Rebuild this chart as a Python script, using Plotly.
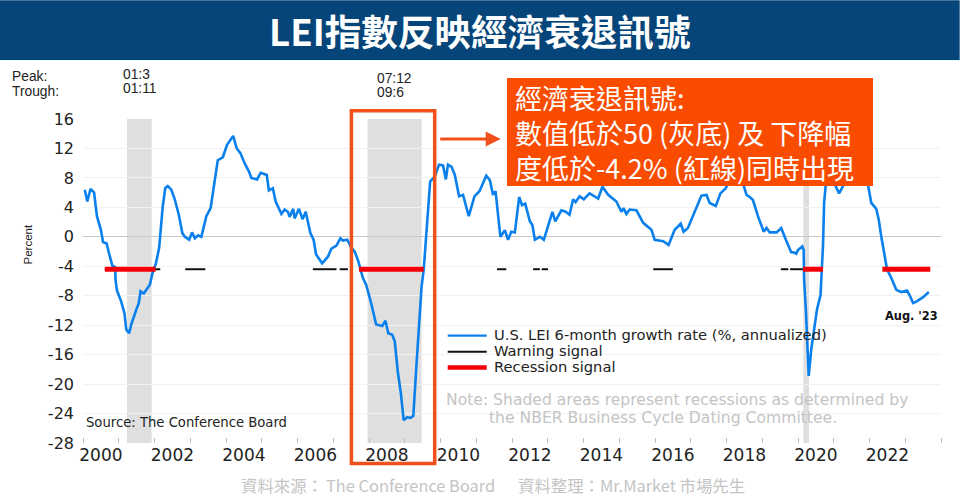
import plotly.graph_objects as go

# ---------- data ----------
lei_x = [2000.05,2000.12,2000.21,2000.31,2000.39,2000.50,2000.56,2000.66,2000.72,2000.82,2000.90,2000.91,2000.95,
2001.07,2001.16,2001.21,2001.29,2001.35,2001.49,2001.56,2001.61,2001.70,2001.87,2001.94,
2002.04,2002.13,2002.23,2002.30,2002.37,2002.47,2002.56,2002.68,2002.78,2002.85,2002.97,
2003.05,2003.13,2003.22,2003.31,2003.45,2003.57,2003.65,2003.77,2003.91,
2004.03,2004.20,2004.30,2004.40,2004.52,2004.64,2004.71,2004.87,2004.97,
2005.03,2005.14,2005.20,2005.31,2005.39,2005.55,2005.64,2005.73,2005.78,2005.88,2005.92,
2006.04,2006.14,2006.23,2006.36,2006.45,2006.52,2006.69,2006.85,2006.95,
2007.09,2007.20,2007.27,2007.39,2007.51,2007.60,2007.70,2007.83,2007.92,
2008.06,2008.20,2008.37,2008.46,2008.54,2008.65,2008.72,2008.81,2008.89,2008.97,
2009.07,2009.16,2009.24,2009.33,2009.40,2009.47,2009.53,2009.59,2009.65,2009.71,2009.84,2009.96,
2010.07,2010.15,2010.21,2010.31,2010.40,2010.52,2010.63,2010.79,2010.95,
2011.09,2011.28,2011.38,2011.47,2011.54,2011.675,2011.80,2011.89,2011.98,
2012.08,2012.20,2012.28,2012.37,2012.50,2012.57,2012.64,2012.78,2012.89,
2013.13,2013.21,2013.38,2013.50,2013.61,2013.71,2013.78,2013.89,
2014.01,2014.17,2014.41,2014.53,2014.69,2014.92,
2015.06,2015.12,2015.20,2015.29,2015.48,2015.67,2015.90,2015.99,
2016.23,2016.38,2016.55,2016.72,2016.80,2016.92,
2017.30,2017.44,2017.53,2017.70,2017.83,2017.98,
2018.04,2018.20,2018.35,2018.46,2018.56,2018.65,2018.74,2018.88,
2019.04,2019.12,2019.21,2019.40,2019.53,2019.66,2019.81,2019.88,2019.95,
2020.00,2020.12,2020.16,2020.17,2020.22,2020.25,2020.30,2020.37,2020.44,2020.53,2020.63,2020.65,2020.67,2020.70,2020.73,2020.77,2020.85,2020.95,
2021.05,2021.15,2021.26,2021.40,2021.65,2021.85,2021.96,
2022.00,2022.05,2022.19,2022.26,2022.33,2022.43,2022.49,2022.61,2022.75,2022.89,
2023.05,2023.12,2023.22,2023.31,2023.50,2023.66]
lei_y = [6.4,4.8,6.5,6.0,2.8,0.95,-0.7,-0.9,-2.1,-3.9,-4.1,-5.8,-7.3,
-8.8,-10.4,-12.6,-13.1,-11.9,-9.9,-9.0,-7.4,-7.7,-6.5,-5.0,
-3.6,-1.5,4.1,6.6,6.9,6.4,5.2,3.0,0.5,0.0,-0.4,
0.6,-0.2,0.2,0.0,2.8,3.9,6.8,10.4,10.8,
12.5,13.7,12.0,11.4,10.0,8.9,8.0,7.8,8.7,
8.6,8.4,6.3,6.6,4.8,3.1,3.7,3.4,2.7,3.8,2.5,
3.8,2.4,3.4,0.5,-0.4,-2.4,-3.6,-2.7,-1.6,
-1.2,-0.2,-0.5,-0.4,-1.5,-2.0,-3.3,-5.6,-6.5,
-9.0,-11.9,-12.1,-11.4,-13.1,-13.3,-14.2,-18.5,-21.2,-24.9,
-24.5,-24.6,-24.3,-17.2,-12.2,-6.8,-4.5,-0.9,2.8,7.5,8.2,9.8,
9.7,7.8,9.8,9.5,8.4,5.5,5.7,2.8,5.5,
6.2,8.3,7.7,5.7,6.2,0.0,0.9,-0.4,0.7,
0.6,5.4,4.3,4.5,2.1,1.6,-0.4,0.0,-0.4,
3.4,2.1,3.6,3.4,3.0,5.1,4.7,5.5,
5.1,5.9,5.2,6.8,5.7,4.8,
3.4,3.9,3.1,3.7,3.6,1.9,0.95,-0.4,
-0.6,-1.1,0.95,1.8,0.7,1.2,
5.6,5.7,4.6,4.2,5.9,6.6,
7.3,8.6,8.9,7.3,5.7,5.4,5.0,2.8,
0.7,1.2,0.6,0.6,1.2,-0.4,-2.1,-2.1,-2.3,
-1.8,-1.3,-1.8,-5.8,-9.9,-14.4,-18.9,-15.3,-12.6,-9.9,-7.9,-5.8,-2.7,-1.1,4.6,6.8,11.0,8.5,
6.9,5.9,6.9,9.0,11.0,10.0,6.9,
5.7,4.6,3.8,2.3,0.0,-2.7,-4.4,-5.6,-7.2,-7.5,
-7.3,-7.9,-9.0,-8.8,-8.2,-7.5]

recession_start = [2001.23, 2007.96, 2020.15]
recession_end = [2001.92, 2009.47, 2020.31]
signal_level = -4.4
warning_start = [2000.61, 2002.86, 2006.43, 2007.18, 2011.58, 2012.59, 2012.83, 2015.95, 2019.52, 2019.78]
warning_end = [2002.16, 2003.42, 2007.09, 2007.41, 2011.84, 2012.78, 2013.01, 2016.50, 2019.73, 2020.14]
red_start = [2000.61, 2007.72, 2020.14, 2022.36]
red_end = [2002.03, 2009.53, 2020.70, 2023.70]

year_ticks = list(range(2000, 2025))
x_labels = [str(y) for y in range(2000, 2024, 2)]
y_labels = list(range(-28, 20, 4))
peak_trough = [("01:3", "01:11"), ("07:12", "09:6"), ("20:2", "20:4")]

# ---------- layout helpers: canvas pixel -> paper fraction ----------
L, R, T, B = 83.3, 941.3, 119.0, 443.5
def fx(p): return (p - L) / (R - L)
def fy(p): return (B - p) / (B - T)

def segs(starts, ends):
    xs, ys = [], []
    for a, b in zip(starts, ends):
        xs += [a, b, None]
        ys += [signal_level, signal_level, None]
    return xs, ys

fig = go.Figure()
wx, wy = segs(warning_start, warning_end)
fig.add_trace(go.Scatter(x=wx, y=wy, mode="lines", line=dict(color="#111111", width=2), hoverinfo="skip"))
fig.add_trace(go.Scatter(x=lei_x, y=lei_y, mode="lines", line=dict(color="#0a80ec", width=2.6), name="U.S. LEI"))
rx, ry = segs(red_start, red_end)
fig.add_trace(go.Scatter(x=rx, y=ry, mode="lines", line=dict(color="#f40008", width=5), hoverinfo="skip"))

shapes = []
for a, b in zip(recession_start, recession_end):
    shapes.append(dict(type="rect", xref="x", yref="y", x0=a, x1=b, y0=-28, y1=16,
                       fillcolor="#dfdfdf", line_width=0, layer="below"))
def rect(x0, y0, x1, y1, **k):
    shapes.append(dict(type="rect", xref="paper", yref="paper", x0=fx(x0), x1=fx(x1), y0=fy(y1), y1=fy(y0), **k))
def hline(x0, x1, y, color, w):
    shapes.append(dict(type="line", xref="paper", yref="paper", x0=fx(x0), x1=fx(x1), y0=fy(y), y1=fy(y),
                       line=dict(color=color, width=w)))
rect(0, 0, 960, 60, fillcolor="#05457a", line_width=0)
rect(0, 60, 960, 61, fillcolor="#e6fbff", line_width=0)
rect(351.7, 110.7, 435, 464, line=dict(color="#f0501a", width=3.5))
hline(448, 487, 336, "#0a80ec", 2.4)
hline(448, 487, 352, "#111111", 2)
hline(448, 487, 368, "#f40008", 4.5)

ann = []
def text(x, y, s, size, color="#222222", family="DejaVu Sans", anchor="left", **k):
    ann.append(dict(xref="paper", yref="paper", x=fx(x), y=fy(y), text=s, showarrow=False,
                    xanchor=anchor, yanchor="middle", align="left", borderpad=0,
                    font=dict(family=family, size=size, color=color), **k))
CJK = "Noto Sans CJK TC"
LIB = "Liberation Sans"
text(480, 30, "<b>LEI指數反映經濟衰退訊號</b>", 36.6, "#ffffff", CJK, "center")
text(11, 76, "Peak:", 13.8, "#222222", LIB)
text(11, 91, "Trough:", 13.8, "#222222", LIB)
text(122, 74, peak_trough[0][0], 13.8, "#222222", LIB)
text(122, 88, peak_trough[0][1], 13.8, "#222222", LIB)
text(376, 78, peak_trough[1][0], 13.8, "#222222", LIB)
text(376, 92, peak_trough[1][1], 13.8, "#222222", LIB)
text(792, 83, peak_trough[2][0], 13.8, "#222222", LIB)
text(28, 245, "Percent", 11.5, "#222222", LIB, "center", textangle=-90)
text(85, 423, "Source: The Conference Board", 13.2)
text(493, 335, "U.S. LEI 6-month growth rate (%, annualized)", 14.7)
text(493, 351, "Warning signal", 14.7)
text(493, 367, "Recession signal", 14.7)
text(445, 400, "Note: Shaded areas represent recessions as determined by", 15.6, "#c4c4c4")
text(488, 418, "the NBER Business Cycle Dating Committee.", 15.6, "#c4c4c4")
text(884, 316, "<b>Aug. '23</b>", 11.4, "#111111")
# orange call-out: filled box first, then its text, both stacked above the labels behind them
ann.append(dict(xref="paper", yref="paper", x=fx(507), y=fy(78), xanchor="left", yanchor="top",
                text="&nbsp;", showarrow=False, width=366, height=108, borderpad=0, borderwidth=0,
                bgcolor="#fa4c00", font=dict(size=12)))
text(514, 133, "經濟衰退訊號:<br>數值低於50 (灰底) 及 下降幅<br>度低於-4.2% (紅線)同時出現", 27, "#ffffff", CJK)
text(240, 486, "資料來源：", 16.4, "#c4c4c4", CJK)
text(325, 486, "The Conference Board", 16.4, "#c4c4c4", CJK)
text(517, 486, "資料整理：Mr.Market 市場先生", 16.4, "#c4c4c4", CJK)
ann.append(dict(xref="paper", yref="paper", x=fx(501), y=fy(139), ax=-62, ay=0, text="", showarrow=True,
                arrowhead=2, arrowsize=1, arrowwidth=3, arrowcolor="#f0501a"))

fig.update_layout(
    width=960, height=502, autosize=False, showlegend=False,
    margin=dict(l=L, r=960 - R, t=T, b=502 - B, pad=0),
    paper_bgcolor="#ffffff", plot_bgcolor="#ffffff",
    shapes=shapes, annotations=ann,
    xaxis=dict(range=[2000, 2024], tickmode="array",
               tickvals=[int(s) + 0.5 for s in x_labels], ticktext=x_labels,
               ticks="", showgrid=False, zeroline=False, showline=False,
               tickfont=dict(family="DejaVu Sans", size=17, color="#222222"),
               minor=dict(tickmode="array", tickvals=year_ticks, ticks="inside", ticklen=5,
                          tickcolor="#bdbdbd", tickwidth=1, showgrid=False)),
    yaxis=dict(range=[-28, 16], tickmode="array", tickvals=y_labels,
               ticktext=[str(v) for v in y_labels],
               ticks="", showgrid=False, showline=False,
               zeroline=True, zerolinecolor="#c8c8c8", zerolinewidth=1,
               tickfont=dict(family="DejaVu Sans", size=16, color="#222222"),
               ticklabelstandoff=8,
               minor=dict(tickmode="array", tickvals=[v for v in y_labels if -28 < v < 16],
                          ticks="", showgrid=True, gridcolor="#f1f1f1", gridwidth=1)),
)
fig.write_html("out.html", config={"displayModeBar": False},
               post_script="document.body.style.margin='0';document.documentElement.style.overflow='hidden';")
